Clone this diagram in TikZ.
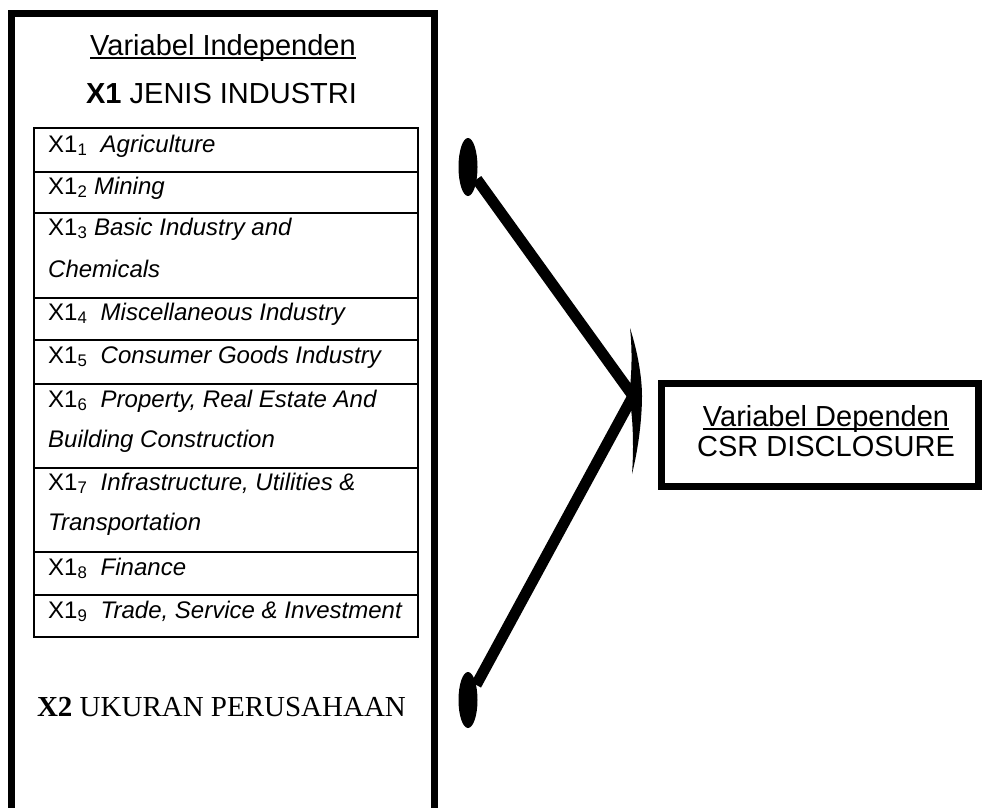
\documentclass[tikz,border=0pt]{standalone}
\usepackage{fontspec}
\setmainfont{Liberation Sans}
\newfontfamily\serifx{Liberation Serif}
\usetikzlibrary{shapes.geometric,positioning,calc}
\newcommand{\varul}[2][-3.5pt]{\sbox0{#2}\rlap{\rule[#1]{\wd0}{1.8pt}}\usebox0}

\begin{document}
\begin{tikzpicture}[x=1pt, y=1pt,
  heading/.style={font=\fontsize{29}{30}\selectfont, inner sep=0pt},
  row/.style={draw, line width=2.4pt, minimum width=384pt, inner sep=0pt, outer sep=0pt},
  item/.style={font=\fontsize{24}{29}\selectfont, inner sep=0pt, anchor=base west},
  frame/.style={line width=7pt},
  blob/.style={ellipse, fill=black, inner sep=0pt, minimum width=19pt, minimum height=58pt},
  stroke/.style={line width=11pt}]
\useasboundingbox (0,0) rectangle (982,-807);
\clip (0,0) rectangle (982,-807);

% left frame, open at the bottom
\draw[frame] (11.5,-830) |- (434,-13.5) -- (434,-830);
\node[heading, anchor=base] (indep) at (223,-55) {\varul{Variabel Independen}};
\node[heading, anchor=base] (x1) at (221.5,-103) {\textbf{X1} JENIS INDUSTRI};

% table of industries
\node[row, minimum height=44pt, anchor=north west] (r1) at (34,-128) {};
\node[row, minimum height=41pt, below=0pt of r1] (r2) {};
\node[row, minimum height=85pt, below=0pt of r2] (r3) {};
\node[row, minimum height=42pt, below=0pt of r3] (r4) {};
\node[row, minimum height=44pt, below=0pt of r4] (r5) {};
\node[row, minimum height=84pt, below=0pt of r5] (r6) {};
\node[row, minimum height=84pt, below=0pt of r6] (r7) {};
\node[row, minimum height=43pt, below=0pt of r7] (r8) {};
\node[row, minimum height=42pt, below=0pt of r8] (r9) {};

\node[item] (t1) at ($(r1.north west)+(14,-24)$) {X1\textsubscript{1}~ \textit{Agriculture}};
\node[item] (t2) at ($(r2.north west)+(14,-22)$) {X1\textsubscript{2} \textit{Mining}};
\node[item] (t3) at ($(r3.north west)+(14,-22)$) {X1\textsubscript{3} \textit{Basic Industry and}};
\node[item] (t3b) at ($(t3.base west)+(0,-42)$) {\textit{Chemicals}};
\node[item] (t4) at ($(r4.north west)+(14,-22)$) {X1\textsubscript{4}~ \textit{Miscellaneous Industry}};
\node[item] (t5) at ($(r5.north west)+(14,-23)$) {X1\textsubscript{5}~ \textit{Consumer Goods Industry}};
\node[item] (t6) at ($(r6.north west)+(14,-23)$) {X1\textsubscript{6}~ \textit{Property, Real Estate And}};
\node[item] (t6b) at ($(t6.base west)+(0,-40)$) {\textit{Building Construction}};
\node[item] (t7) at ($(r7.north west)+(14,-22)$) {X1\textsubscript{7}~ \textit{Infrastructure, Utilities \&}};
\node[item] (t7b) at ($(t7.base west)+(0,-40)$) {\textit{Transportation}};
\node[item] (t8) at ($(r8.north west)+(14,-23)$) {X1\textsubscript{8}~ \textit{Finance}};
\node[item] (t9) at ($(r9.north west)+(14,-23)$) {X1\textsubscript{9}~ \textit{Trade, Service \& Investment}};

\node[heading, font=\serifx\fontsize{29}{30}\selectfont, anchor=base] (x2) at (221.5,-716) {\textbf{X2} UKURAN PERUSAHAAN};

% dependent variable
\node[draw, line width=7pt, inner sep=0pt, minimum width=317pt, minimum height=102.5pt] (dep) at (819.5,-434.75) {};
\node[heading, align=center] (deptext) at (826,-431.5) {\varul[-3pt]{Variabel Dependen}\\CSR DISCLOSURE};

% the two converging arrows
\node[blob] (capA) at (468,-167) {};
\node[blob, minimum height=56pt] (capB) at (468,-700) {};
\coordinate (tip) at (633,-396);
\draw[stroke] (capA) -- (tip);
\draw[stroke] (capB) -- (tip);
\fill[shift={(tip)}] (-3,68) .. controls (6,40) and (9,15) .. (9,0)
  .. controls (9,-20) and (6,-50) .. (-1,-78)
  .. controls (1,-50) and (0,-20) .. (-4,0)
  .. controls (-2,15) and (0,40) .. (-3,68) -- cycle;
\end{tikzpicture}
\end{document}
